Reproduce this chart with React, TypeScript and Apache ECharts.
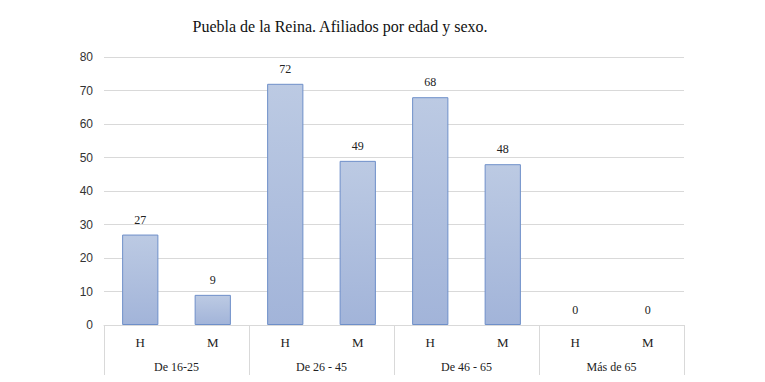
import React, { useEffect, useRef } from "react";
import * as echarts from "echarts";

const titleText = "Puebla de la Reina. Afiliados por edad y sexo.";
const sexLabels = ["H", "M", "H", "M", "H", "M", "H", "M"];
const groupLabels = ["De 16-25", "De 26 - 45", "De 46 - 65", "Más de 65"];
const values = [27, 9, 72, 49, 68, 48, 0, 0];
const yMin = 0;
const yMax = 80;
const yInterval = 10;

export default function App() {
  const ref = useRef<HTMLDivElement>(null);
  useEffect(() => {
    if (!ref.current) return;
    const chart = echarts.init(ref.current, null, { renderer: "svg" });
    const serif = "'Liberation Serif', 'DejaVu Serif', serif";
    chart.setOption({
      animation: false,
      backgroundColor: "#ffffff",
      title: {
        text: titleText,
        left: 335,
        top: 13,
        textAlign: "center",
        textStyle: { fontFamily: serif, fontSize: 16, fontWeight: "normal", color: "#111" },
      },
      grid: { left: 104, right: 81, top: 57, bottom: 57, containLabel: false },
      xAxis: [
        {
          type: "category",
          data: sexLabels,
          position: "bottom",
          axisLine: { show: true, lineStyle: { color: "#d9d9d9", width: 1 } },
          axisTick: { show: false },
          axisLabel: { fontFamily: serif, fontSize: 13, color: "#222", margin: 11 },
          splitLine: { show: false },
        },
        {
          type: "category",
          data: groupLabels,
          position: "bottom",
          offset: 0,
          axisLine: { show: false },
          axisTick: { show: true, length: 50, lineStyle: { color: "#d9d9d9", width: 1 } },
          axisLabel: { fontFamily: serif, fontSize: 12, color: "#222", margin: 36 },
          splitLine: { show: false },
        },
      ],
      yAxis: {
        type: "value",
        min: yMin,
        max: yMax,
        interval: yInterval,
        axisLine: { show: false },
        axisTick: { show: false },
        axisLabel: { fontFamily: "'Liberation Sans', sans-serif", fontSize: 12, color: "#333", margin: 11 },
        splitLine: { show: true, lineStyle: { color: "#d9d9d9", width: 1 } },
      },
      series: [
        {
          type: "bar",
          xAxisIndex: 0,
          data: values.map((v) =>
            v === 0 ? { value: v, itemStyle: { borderWidth: 0, color: "rgba(0,0,0,0)" } } : v
          ),
          barWidth: "50%",
          itemStyle: {
            color: new echarts.graphic.LinearGradient(0, 0, 0, 1, [
              { offset: 0, color: "#bccae3" },
              { offset: 1, color: "#a2b4d9" },
            ]),
            borderColor: "#6e8fc9",
            borderWidth: 1,
          },
          label: {
            show: true,
            position: "top",
            distance: 9,
            fontFamily: serif,
            fontSize: 12,
            color: "#222",
          },
        },
      ],
    });
    return () => chart.dispose();
  }, []);
  return <div ref={ref} style={{ width: 765, height: 382, position: "absolute", left: 0, top: 0 }} />;
}
